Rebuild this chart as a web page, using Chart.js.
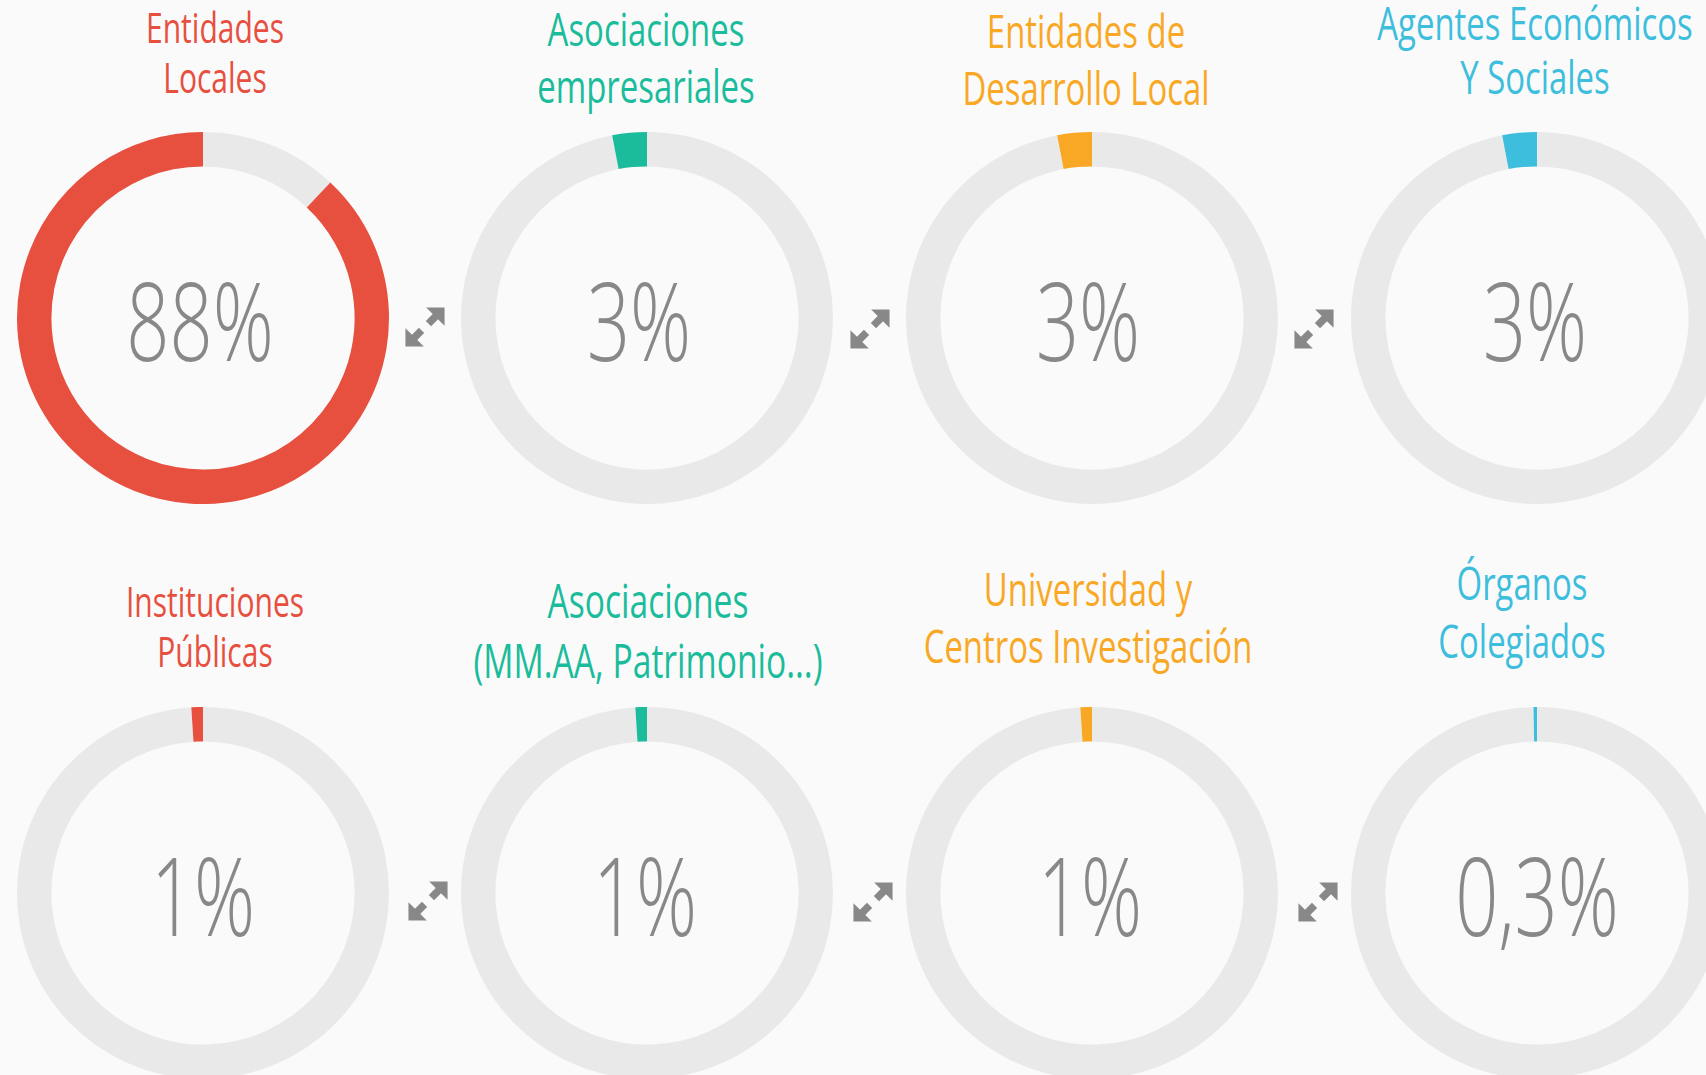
<!DOCTYPE html>
<html>
<head>
<meta charset="utf-8">
<script src="https://cdn.jsdelivr.net/npm/chart.js@4"></script>
<style>
  html, body { margin: 0; padding: 0; }
  body { width: 1706px; height: 1075px; background: #fafafa; overflow: hidden; position: relative; font-family: "Open Sans", sans-serif; }
  .box { position: absolute; width: 372px; height: 372px; }
  .title { position: absolute; width: 700px; text-align: center; white-space: nowrap; transform: translateX(-50%) scaleX(0.715); }
  .num { position: absolute; width: 400px; text-align: center; color: #888; font-weight: 300; font-size: 108px; line-height: 108px; transform: translate(-50%, -50%) scaleX(0.70); white-space: nowrap; }
  .arrow { position: absolute; width: 46px; height: 46px; }
</style>
</head>
<body>
<script>
const categories = [
  ["Entidades", "Locales"],
  ["Asociaciones", "empresariales"],
  ["Entidades de", "Desarrollo Local"],
  ["Agentes Económicos", "Y Sociales"],
  ["Instituciones", "Públicas"],
  ["Asociaciones", "(MM.AA, Patrimonio...)"],
  ["Universidad y", "Centros Investigación"],
  ["Órganos", "Colegiados"]
];
const values = [88, 3, 3, 3, 1, 1, 1, 0.3];
const valueLabels = ["88%", "3%", "3%", "3%", "1%", "1%", "1%", "0,3%"];
const colors = ["#e74f3f", "#1abc9c", "#f9a825", "#3dbedd", "#e74f3f", "#1abc9c", "#f9a825", "#3dbedd"];

// layout
const colX = [203, 647, 1092, 1537];
const rowY = [318, 893];
const titleX = [215, 646, 1086, 1535, 215, 648, 1088, 1522];
const titleY = [30, 31, 33, 25, 604, 603, 591, 585];
const titleSize = [42, 46, 46, 46, 42, 47, 46, 46];
const lineGap = [50, 57, 57, 54, 50, 60, 57, 58];
const numShift = [-3, -8, -4, -2, 0, -2, -2, 0];
const arrows = [[425, 327], [870, 329], [1314, 329], [428, 901], [873, 902], [1318, 902]];

values.forEach(function (v, i) {
  const cx = colX[i % 4], cy = rowY[Math.floor(i / 4)];

  const box = document.createElement("div");
  box.className = "box";
  box.style.left = (cx - 186) + "px";
  box.style.top = (cy - 186) + "px";
  const canvas = document.createElement("canvas");
  box.appendChild(canvas);
  document.body.appendChild(box);

  new Chart(canvas, {
    type: 'doughnut',
    data: {
      labels: ["Resto", categories[i].join(" ")],
      datasets: [{
        data: [100 - v, v],
        backgroundColor: ['#e9e9e9', colors[i]],
        borderWidth: 0,
        hoverOffset: 0
      }]
    },
    options: {
      maintainAspectRatio: false,
      animation: false,
      cutout: '81.5%',
      events: [],
      plugins: {
        legend: { display: false },
        tooltip: { enabled: false }
      }
    }
  });

  // title lines
  categories[i].forEach(function (line, k) {
    const t = document.createElement("div");
    t.className = "title";
    t.textContent = line;
    t.style.color = colors[i];
    t.style.fontSize = titleSize[i] + "px";
    t.style.lineHeight = titleSize[i] + "px";
    t.style.left = titleX[i] + "px";
    t.style.top = (titleY[i] + k * lineGap[i] - titleSize[i] * 0.56) + "px";
    document.body.appendChild(t);
  });

  const n = document.createElement("div");
  n.className = "num";
  n.textContent = valueLabels[i];
  n.style.left = (cx + numShift[i]) + "px";
  n.style.top = (cy + 2) + "px";
  document.body.appendChild(n);
});

arrows.forEach(function (a) {
  const s = document.createElementNS("http://www.w3.org/2000/svg", "svg");
  s.setAttribute("class", "arrow");
  s.setAttribute("viewBox", "0 0 40 40");
  s.style.left = (a[0] - 23) + "px";
  s.style.top = (a[1] - 23) + "px";
  s.innerHTML =
    '<polygon points="21,3 37,3 37,19" fill="#888"/>' +
    '<line x1="31" y1="9" x2="23" y2="17" stroke="#888" stroke-width="6.5"/>' +
    '<polygon points="3,21 3,37 19,37" fill="#888"/>' +
    '<line x1="9" y1="31" x2="17" y2="23" stroke="#888" stroke-width="6.5"/>';
  document.body.appendChild(s);
});
</script>
</body>
</html>
